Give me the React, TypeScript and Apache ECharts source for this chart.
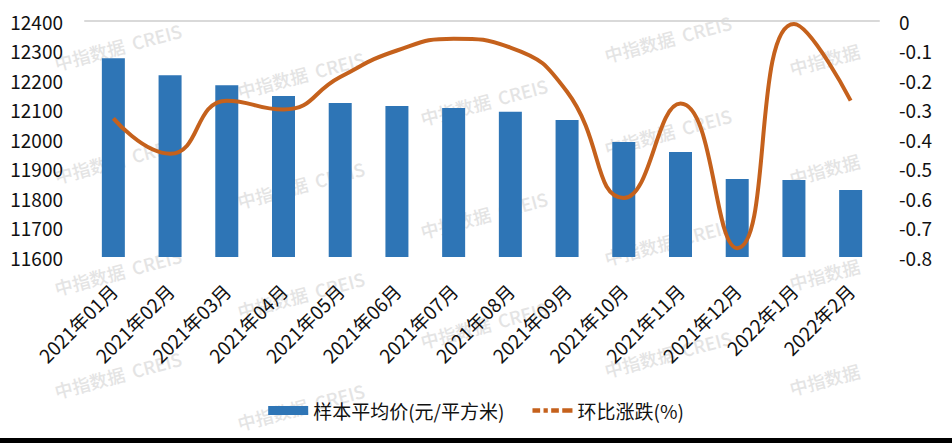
import React, { useEffect, useRef } from "react";
import * as echarts from "echarts";

const categories = [
  "2021年01月", "2021年02月", "2021年03月", "2021年04月", "2021年05月", "2021年06月", "2021年07月",
  "2021年08月", "2021年09月", "2021年10月", "2021年11月", "2021年12月", "2022年1月", "2022年2月",
];
const avgPrice = [12274, 12216, 12182, 12146, 12122, 12112, 12105, 12092, 12064, 11990, 11956, 11864, 11861, 11827];
const momChange = [-0.33, -0.45, -0.27, -0.30, -0.19, -0.10, -0.06, -0.09, -0.24, -0.60, -0.28, -0.77, -0.01, -0.27];
const seriesNames = ["样本平均价(元/平方米)", "环比涨跌(%)"];
const watermarkText = "中指数据  CREIS";
const watermarkShort = "中指数据";

const FONT = "'Noto Sans CJK SC', 'Noto Sans', sans-serif";

export default function App() {
  const ref = useRef<HTMLDivElement>(null);
  useEffect(() => {
    if (!ref.current) return;
    const chart = echarts.init(ref.current, null, { renderer: "svg" });
    const wm = (x: number, y: number, t: string) => ({
      type: "text",
      x,
      y,
      rotation: 0.26,
      z: 0,
      silent: true,
      style: {
        text: t,
        fill: "#e4e4e4",
        font: `500 18px ${FONT}`,
        textVerticalAlign: "bottom",
      },
    });
    const marks: any[] = [];
    const cols: [number, number[], string][] = [
      [57, [72, 185, 297, 400], watermarkText],
      [240, [100, 210, 320, 432], watermarkText],
      [423, [127, 240, 350], watermarkText],
      [607, [64, 157, 267, 379], watermarkText],
      [792, [77, 187, 292, 397], watermarkShort],
    ];
    cols.forEach(([x, ys, t]) => ys.forEach((y) => marks.push(wm(x, y, t))));
    marks.push({
      type: "rect",
      left: 0,
      bottom: 0,
      z: 120,
      shape: { width: 952, height: 5 },
      style: { fill: "#000" },
    });
    chart.setOption({
      animation: false,
      backgroundColor: "#fff",
      textStyle: { fontFamily: FONT },
      grid: { left: 85, right: 73, top: 21, bottom: 186 },
      legend: {
        top: 396,
        left: "center",
        itemWidth: 40,
        itemHeight: 9,
        itemGap: 28,
        textStyle: { fontSize: 19, color: "#111", fontFamily: FONT },
        data: [
          { name: seriesNames[0], icon: "rect" },
          {
            name: seriesNames[1],
            icon: "path://M0 0h9v5h-9z M13 0h5v5h-5z M22 0h9v5h-9z M35 0h12v5h-12z",
          },
        ],
      },
      xAxis: {
        type: "category",
        data: categories,
        axisLine: { lineStyle: { color: "#d9d9d9", width: 2 } },
        axisTick: { show: false },
        axisLabel: { rotate: 45, interval: 0, margin: 30, fontSize: 19, color: "#111" },
      },
      yAxis: [
        {
          type: "value",
          min: 11600,
          max: 12400,
          interval: 100,
          splitLine: { show: false },
          axisLine: { show: false },
          axisTick: { show: false },
          axisLabel: {
            fontSize: 19,
            color: "#111",
            margin: 22,
            formatter: (v: number) => String(Math.round(v)),
          },
        },
        {
          type: "value",
          min: -0.8,
          max: 0,
          interval: 0.1,
          splitLine: { show: false },
          axisLine: { show: false },
          axisTick: { show: false },
          axisLabel: {
            fontSize: 19,
            color: "#111",
            margin: 20,
            formatter: (v: number) => String(Math.round(v * 10) / 10),
          },
        },
      ],
      series: [
        {
          name: seriesNames[0],
          type: "bar",
          data: avgPrice,
          barWidth: 23,
          itemStyle: { color: "#2E75B6" },
        },
        {
          name: seriesNames[1],
          type: "line",
          yAxisIndex: 1,
          data: momChange,
          smooth: 0.5,
          symbol: "none",
          lineStyle: { color: "#C5611C", width: 4 },
          itemStyle: { color: "#C5611C" },
        },
      ],
      graphic: marks,
    });
    return () => chart.dispose();
  }, []);
  return (
    <div
      ref={ref}
      style={{ position: "absolute", left: 0, top: 0, width: 952, height: 443, background: "#fff" }}
    />
  );
}
